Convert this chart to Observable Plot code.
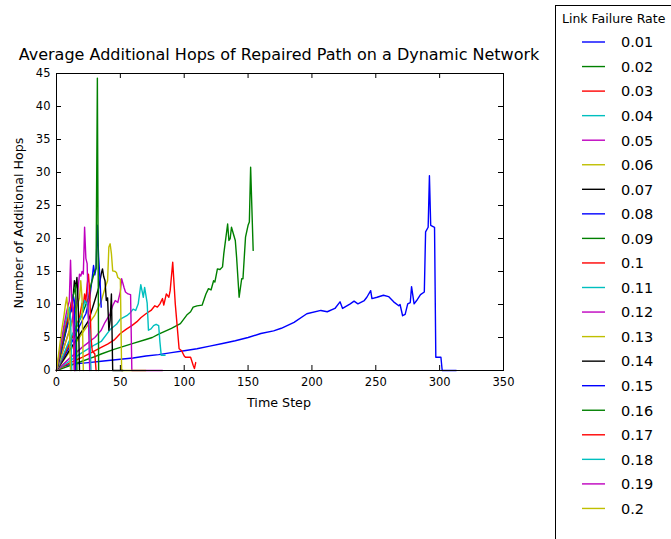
<!DOCTYPE html>
<html>
<head>
<meta charset="utf-8">
<script src="https://cdn.jsdelivr.net/npm/d3@7"></script>
<script src="https://cdn.jsdelivr.net/npm/@observablehq/plot@0.6"></script>
<style>
  html, body { margin: 0; padding: 0; background: #fff; overflow: hidden; }
  #wrap { position: relative; width: 671px; height: 539px; font-family: "DejaVu Sans", sans-serif; color: #000; }
  #chart { position: absolute; left: 0; top: 0; }
  .lab { position: absolute; white-space: nowrap; line-height: 1; }
  #title { left: 279px; top: 55px; font-size: 16px; transform: translate(-50%, -50%); }
  #xlab { left: 279px; top: 403px; font-size: 12.7px; transform: translate(-50%, -50%); }
  #ylab { left: 19px; top: 223px; font-size: 12.7px; transform: translate(-50%, -50%) rotate(-90deg); }
  #legend { position: absolute; left: 555px; top: 5px; }
</style>
</head>
<body>
<div id="wrap">
  <div id="chart"></div>
  <div id="title" class="lab">Average Additional Hops of Repaired Path on a Dynamic Network</div>
  <div id="xlab" class="lab">Time Step</div>
  <div id="ylab" class="lab">Number of Additional Hops</div>
  <div id="legend"></div>
</div>
<script>
// Link failure rates (legend labels)
const rates = ["0.01","0.02","0.03","0.04","0.05","0.06","0.07","0.08","0.09","0.1",
               "0.11","0.12","0.13","0.14","0.15","0.16","0.17","0.18","0.19","0.2"];
const palette = ["#0000ff","#008000","#ff0000","#00bfbf","#bf00bf","#bfbf00","#000000"];
const xTicks = [0, 50, 100, 150, 200, 250, 300, 350];
const yTicks = [0, 5, 10, 15, 20, 25, 30, 35, 40, 45];

// [time step, average additional hops]
const r01 = [[0,0],[3,0.5],[8,0.8],[15,1.0],[25,1.2],[35,1.4],[50,1.7],[60,1.9],[70,2.2],[80,2.4],[90,2.7],[100,3.0],[110,3.3],[120,3.7],[130,4.1],[140,4.5],[150,5.0],[160,5.6],[170,6.0],[176,6.4],[186,7.3],[196,8.6],[207,9.1],[212,8.9],[218,9.4],[222,10.4],[224,9.4],[230,10.1],[233,10.5],[236,10.1],[241,10.6],[243,11.1],[246,12.1],[247,10.9],[251,11.1],[256,11.4],[260,11.2],[264,10.4],[268,9.8],[269,10.0],[271,8.3],[273,8.5],[275,10.1],[277,10.3],[278,12.7],[280,10.1],[282,10.6],[285,11.5],[288,11.9],[289,21.0],[291,21.7],[292,29.5],[293,22.0],[296,21.7],[297,2.0],[301,2.0],[302,0],[313,0]];
const r02 = [[0,0],[10,0.7],[20,1.4],[30,2.1],[35,2.5],[45,3.2],[50,3.5],[60,4.1],[70,4.7],[75,5.0],[80,5.5],[90,6.4],[97,7.1],[102,8.4],[105,8.9],[107,9.6],[110,9.8],[114,9.9],[117,11.6],[119,12.4],[121,12.2],[123,13.6],[124,13.4],[126,15.4],[128,15.3],[130,15.7],[131,17.7],[134,22.2],[135,19.7],[136,20.0],[137,21.7],[140,19.7],[141,17.2],[143,11.1],[145,13.9],[146,13.9],[148,20.2],[150,22.0],[151,22.5],[152,30.8],[154,18.2]];
const r03 = [[0,0],[5,0.6],[10,1.1],[20,2.0],[28,2.8],[35,3.5],[40,4.0],[45,4.6],[50,5.6],[55,6.3],[59,6.8],[63,7.4],[66,8.0],[70,8.6],[74,9.1],[77,9.8],[79,9.6],[81,10.1],[83,10.9],[84,9.9],[86,11.6],[88,11.1],[89,12.1],[91,16.4],[93,10.1],[96,3.3],[98,3.0],[100,2.2],[101,2.0],[105,2.0],[107,0.8],[108,0.3],[109,1.2]];
const r04 = [[0,0],[10,1.4],[20,2.7],[30,3.9],[35,4.4],[42,6.2],[47,7.0],[50,7.8],[55,8.3],[58,8.8],[60,9.3],[62,9.1],[64,10.1],[66,13.0],[68,11.1],[69,12.6],[71,10.2],[72,6.1],[74,6.3],[76,6.8],[78,7.0],[80,6.8],[81,4.3],[82,2.3],[85,2.3]];
const r05 = [[0,0],[10,1.8],[20,3.5],[30,5.0],[35,6.1],[38,7.3],[42,8.6],[44,9.8],[46,10.6],[48,10.3],[50,12.0],[51,13.9],[53,12.5],[54,11.9],[56,11.6],[58,11.5],[59,0],[83,0]];
const r06 = [[0,0],[10,2.8],[20,5.6],[30,8.4],[35,10.5],[38,12.5],[40,13.6],[41,18.7],[42,19.2],[43,17.7],[44,15.1],[46,15.0],[47,14.8],[48,14.1],[50,13.8],[51,0],[70,0]];
const r07 = [[0,0],[10,3.0],[20,6.0],[25,7.5],[30,10.6],[33,12.5],[35,14.6],[36,15.4],[37,14.2],[38,13.6],[39,10.6],[40,11.0],[41,6.1],[42,7.6],[43,11.6],[44,0],[52,0]];
const r08 = [[0,0],[10,3.5],[20,7.5],[23,8.6],[26,11.0],[28,14.1],[29,15.9],[30,14.5],[31,15.5],[32,22.0],[33,17.2],[34,14.0],[35,9.6]];
const r09 = [[0,0],[10,4.0],[20,8.5],[25,11.0],[27,13.0],[29,14.4],[30,15.0],[31,15.5],[32,44.3],[33,0]];
const r10 = [[0,0],[5,2.0],[10,4.0],[15,6.5],[18,8.0],[20,10.2],[21,9.8],[22,11.6],[23,10.5],[24,13.0],[25,14.6],[26,12.0],[27,5.0],[28,3.0],[30,2.5],[31,0]];
const r11 = [[0,0],[5,2.2],[10,4.5],[15,6.5],[20,8.5],[22,10.6],[24,10.0],[26,6.0],[27,0]];
const r12 = [[0,0],[5,3.0],[10,6.0],[14,9.0],[16,10.6],[18,14.6],[19,14.3],[20,15.0],[21,14.6],[22,21.7],[23,17.0],[24,16.2],[25,8.0],[26,0]];
const r13 = [[0,0],[5,3.0],[10,6.0],[15,9.0],[18,11.0],[19,13.6],[20,11.0],[21,0]];
const r14 = [[0,0],[5,4.0],[10,8.0],[12,9.5],[13,11.0],[14,13.6],[15,12.5],[16,14.1],[17,10.0],[18,0]];
const r15 = [[0,0],[5,4.0],[8,6.6],[10,8.0],[11,9.6],[12,9.0],[13,11.5],[14,10.5],[15,0]];
const r16 = [[0,0],[5,4.5],[10,9.0],[12,10.5],[14,12.0],[15,13.0],[16,0]];
const r17 = [[0,0],[3,3.0],[6,6.0],[9,8.0],[11,9.5],[12,10.8],[13,9.5],[14,0]];
const r18 = [[0,0],[3,3.5],[6,6.5],[8,8.0],[10,9.5],[11,8.0],[12,0]];
const r19 = [[0,0],[3,3.5],[6,7.0],[8,9.0],[10,10.5],[11,16.7],[12,10.0],[13,9.0],[14,0]];
const r20 = [[0,0],[2,3.0],[4,6.0],[6,8.5],[7,10.0],[8,11.1],[9,9.0],[10,7.0],[11,0]];

const series = [r01,r02,r03,r04,r05,r06,r07,r08,r09,r10,r11,r12,r13,r14,r15,r16,r17,r18,r19,r20];

const lineMarks = series.map((s, i) =>
  Plot.line(s, {x: d => d[0], y: d => d[1], stroke: palette[i % 7], strokeWidth: 1.4, curve: "linear"}));

const chart = Plot.plot({
  width: 671, height: 539,
  marginLeft: 56, marginRight: 168, marginTop: 73, marginBottom: 169,
  style: {fontFamily: "DejaVu Sans", fontSize: "11.5px", color: "#000", background: "#fff"},
  x: {domain: [0, 350], label: null},
  y: {domain: [0, 45], label: null},
  marks: [
    ...lineMarks,
    Plot.frame({stroke: "#000", strokeWidth: 1}),
    Plot.ruleX(xTicks, {x: d => d, insetTop: 292, stroke: "#000"}),
    Plot.ruleX(xTicks, {x: d => d, insetBottom: 292, stroke: "#000"}),
    Plot.ruleY(yTicks, {y: d => d, insetRight: 442, stroke: "#000"}),
    Plot.ruleY(yTicks, {y: d => d, insetLeft: 442, stroke: "#000"}),
    Plot.axisX(xTicks, {tickSize: 0, tickPadding: 7, label: null}),
    Plot.axisY(yTicks, {tickSize: 0, tickPadding: 6, label: null})
  ]
});
document.getElementById("chart").appendChild(chart);

// legend (box with title and one sample line per rate)
const ns = "http://www.w3.org/2000/svg";
const lg = document.createElementNS(ns, "svg");
lg.setAttribute("width", 130); lg.setAttribute("height", 545);
lg.style.fontFamily = "DejaVu Sans";
const box = document.createElementNS(ns, "rect");
box.setAttribute("x", 0.5); box.setAttribute("y", 0.5);
box.setAttribute("width", 140); box.setAttribute("height", 560);
box.setAttribute("fill", "#fff"); box.setAttribute("stroke", "#000");
lg.appendChild(box);
const tt = document.createElementNS(ns, "text");
tt.setAttribute("x", 7); tt.setAttribute("y", 17.5);
tt.setAttribute("font-size", 12.5);
tt.textContent = "Link Failure Rate";
lg.appendChild(tt);
rates.forEach((r, i) => {
  const cy = 37 + i * 24.55;
  const ln = document.createElementNS(ns, "line");
  ln.setAttribute("x1", 27); ln.setAttribute("x2", 50);
  ln.setAttribute("y1", cy); ln.setAttribute("y2", cy);
  ln.setAttribute("stroke", palette[i % 7]); ln.setAttribute("stroke-width", 1.4);
  lg.appendChild(ln);
  const tx = document.createElementNS(ns, "text");
  tx.setAttribute("x", 66); tx.setAttribute("y", cy + 5.3);
  tx.setAttribute("font-size", 14.5);
  tx.textContent = r;
  lg.appendChild(tx);
});
document.getElementById("legend").appendChild(lg);
</script>
</body>
</html>
